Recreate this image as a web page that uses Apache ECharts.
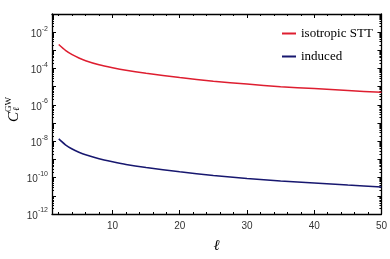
<!DOCTYPE html>
<html>
<head>
<meta charset="utf-8">
<script src="https://cdn.jsdelivr.net/npm/echarts@6/dist/echarts.min.js"></script>
<style>html,body{margin:0;padding:0;background:#fff;}#c{width:390px;height:259px;}</style>
</head>
<body>
<div id="c"></div>
<script>
// ---- data ----
const ell = [2, 3, 4, 5, 6, 8, 10, 12, 15, 20, 25, 30, 35, 40, 45, 50];
const isotropicSTT = [2.1e-3, 1.0e-3, 5.8e-4, 3.8e-4, 2.7e-4, 1.6e-4, 1.1e-4, 8.0e-5, 5.5e-5, 3.2e-5, 2.0e-5, 1.4e-5, 1.0e-5, 7.9e-6, 6.2e-6, 4.9e-6];
const induced = [1.35e-8, 6.4e-9, 3.75e-9, 2.5e-9, 1.8e-9, 1.1e-9, 7.5e-10, 5.3e-10, 3.6e-10, 2.1e-10, 1.3e-10, 9.0e-11, 6.5e-11, 5.0e-11, 3.9e-11, 3.1e-11];
const seriesNames = ['isotropic STT', 'induced'];
const xLabelTicks = [10, 20, 30, 40, 50];
const xMinorTicks = [2, 4, 6, 8, 12, 14, 16, 18, 22, 24, 26, 28, 32, 34, 36, 38, 42, 44, 46, 48];
const yDecadeExps = [-12, -11, -10, -9, -8, -7, -6, -5, -4, -3, -2, -1];
const yLabelExps = [-12, -10, -8, -6, -4, -2];

const yMajor = yDecadeExps.map(e => Math.pow(10, e));
const yMinor = [];
yDecadeExps.slice(0, -1).forEach(e => { for (let m = 2; m <= 9; m++) yMinor.push(m * Math.pow(10, e)); });

const chart = echarts.init(document.getElementById('c'));
const Y_MIN = 1e-12, Y_MAX = 1e-1;

function xAxisDef(pos, ticks, len, showLine, showLabel) {
  return {
    type: 'value', position: pos, min: 1, max: 50,
    axisLine: { show: showLine, onZero: false, lineStyle: { color: '#000', width: 1.3 } },
    axisTick: { show: true, inside: true, length: len, customValues: ticks, lineStyle: { color: '#000', width: 1 } },
    axisLabel: showLabel ? { show: true, customValues: xLabelTicks, color: '#333', fontFamily: 'Liberation Sans', fontSize: 10, margin: 7 } : { show: false },
    splitLine: { show: false }
  };
}
function yAxisDef(pos, ticks, len, showLine, showLabel) {
  return {
    type: 'log', logBase: 10, position: pos, min: Y_MIN, max: Y_MAX,
    axisLine: { show: showLine, lineStyle: { color: '#000', width: 1.3 } },
    axisTick: { show: true, inside: true, length: len, customValues: ticks, lineStyle: { color: '#000', width: 1 } },
    axisLabel: showLabel ? {
      show: true, margin: 4,
      customValues: yLabelExps.map(e => Math.pow(10, e)),
      formatter: v => { const e = Math.round(Math.log10(v)); return '{b|10}{s|-' + Math.abs(e) + '}'; },
      rich: {
        b: { fontSize: 10, fontFamily: 'Liberation Sans', color: '#333', verticalAlign: 'bottom', lineHeight: 14 },
        s: { fontSize: 7, fontFamily: 'Liberation Sans', color: '#333', verticalAlign: 'top', lineHeight: 14 }
      }
    } : { show: false },
    splitLine: { show: false }
  };
}

chart.setOption({
  animation: false,
  backgroundColor: '#fff',
  grid: { left: 52, right: 6, top: 14, bottom: 42 },
  legend: {
    data: seriesNames, left: 277, top: 22, orient: 'vertical',
    icon: 'rect', itemWidth: 14, itemHeight: 2, itemGap: 10,
    textStyle: { fontFamily: 'Liberation Serif', fontSize: 13, color: '#000' }
  },
  xAxis: [
    Object.assign(xAxisDef('bottom', xLabelTicks, 4, true, true), {
      name: 'ℓ', nameLocation: 'middle', nameGap: 25,
      nameTextStyle: { fontFamily: 'Liberation Serif', fontStyle: 'italic', fontSize: 15, color: '#000' }
    }),
    xAxisDef('bottom', xMinorTicks, 2, false, false),
    xAxisDef('top', xLabelTicks, 4, true, false),
    xAxisDef('top', xMinorTicks, 2, false, false)
  ],
  yAxis: [
    yAxisDef('left', yMajor, 4, true, true),
    yAxisDef('left', yMinor, 2, false, false),
    yAxisDef('right', yMajor, 4, true, false),
    yAxisDef('right', yMinor, 2, false, false)
  ],
  graphic: [{
    type: 'group', x: 14, y: 117, rotation: Math.PI / 2,
    children: [
      { type: 'text', x: 0, y: 0, style: { text: 'C', font: 'italic 15px "Liberation Serif"', fill: '#000', align: 'center', verticalAlign: 'middle' } },
      { type: 'text', x: 5, y: -5, style: { text: 'GW', font: '9px "Liberation Serif"', fill: '#000', align: 'left', verticalAlign: 'middle' } },
      { type: 'text', x: 6, y: 3, style: { text: 'ℓ', font: 'italic 9px "Liberation Serif"', fill: '#000', align: 'left', verticalAlign: 'middle' } }
    ]
  }],
  series: [
    { name: seriesNames[0], type: 'line', xAxisIndex: 0, yAxisIndex: 0, showSymbol: false, smooth: 0.2,
      data: ell.map((x, i) => [x, isotropicSTT[i]]), itemStyle: { color: '#de1e30' }, lineStyle: { color: '#de1e30', width: 1.5 } },
    { name: seriesNames[1], type: 'line', xAxisIndex: 0, yAxisIndex: 0, showSymbol: false, smooth: 0.2,
      data: ell.map((x, i) => [x, induced[i]]), itemStyle: { color: '#17176f' }, lineStyle: { color: '#17176f', width: 1.5 } }
  ]
});
</script>
</body>
</html>
